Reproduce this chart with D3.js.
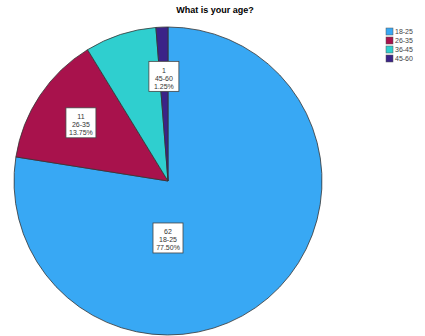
<!DOCTYPE html>
<html>
<head>
<meta charset="utf-8">
<script src="https://cdn.jsdelivr.net/npm/d3@7"></script>
<style>
  body { margin: 0; background: #fff; }
  svg { display: block; }
</style>
</head>
<body>
<script>
// chart data
var ageGroups = ["18-25", "26-35", "36-45", "45-60"];
var counts = [62, 11, 6, 1];
var percents = ["77.50%", "13.75%", "7.50%", "1.25%"];
var sliceColors = ["#38a8f4", "#a8124c", "#2fcfcf", "#3b2388"];
// which slices get a value box (the 36-45 box is hidden in the original)
var showLabel = [true, true, false, true];

var width = 425, height = 336;
var cx = 168, cy = 181, radius = 154;

var svg = d3.select("body").append("svg")
    .attr("width", width)
    .attr("height", height);

// title
svg.append("text")
    .attr("x", 215)
    .attr("y", 13)
    .style("text-anchor", "middle")
    .style("font", "bold 9px 'Liberation Sans', Arial, sans-serif")
    .style("fill", "#000")
    .text("What is your age?");

var data = ageGroups.map(function(g, i) {
  return {group: g, count: counts[i], pct: percents[i], color: sliceColors[i], label: showLabel[i]};
});

// clockwise from 12 o'clock, no sorting
var pie = d3.pie()
    .sort(null)
    .value(function(d) { return d.count; });

var arc = d3.arc()
    .innerRadius(0)
    .outerRadius(radius);

var g = svg.append("g")
    .attr("transform", "translate(" + cx + "," + cy + ")");

var arcs = pie(data);

g.selectAll("path.slice")
    .data(arcs)
    .enter()
    .append("path")
    .attr("class", "slice")
    .attr("d", arc)
    .attr("fill", function(d) { return d.data.color; })
    .attr("stroke", "#333")
    .attr("stroke-width", 0.8);

// label placement: along the bisector at 2/3 radius,
// the big slice gets its box straight below the centre like SPSS does
function labelPos(d, i) {
  var a = (d.startAngle + d.endAngle) / 2;
  var r = radius * 0.68;
  if (i === 0) { a = Math.PI; r = radius * 0.37; }
  return [Math.sin(a) * r, -Math.cos(a) * r];
}

var boxes = g.selectAll("g.node")
    .data(arcs.filter(function(d) { return d.data.label; }))
    .enter()
    .append("g")
    .attr("class", "node")
    .attr("transform", function(d) {
      var p = labelPos(d, d.index);
      return "translate(" + p[0] + "," + p[1] + ")";
    });

boxes.append("rect")
    .attr("x", -15)
    .attr("y", -15)
    .attr("width", 30)
    .attr("height", 30)
    .attr("fill", "#fff")
    .attr("stroke", "#444")
    .attr("stroke-width", 0.8);

boxes.each(function(d) {
  var lines = [String(d.data.count), d.data.group, d.data.pct];
  var box = d3.select(this);
  lines.forEach(function(t, k) {
    box.append("text")
      .attr("x", 0)
      .attr("y", -6 + k * 8)
      .attr("dy", ".35em")
      .style("text-anchor", "middle")
      .style("font", "7px 'Liberation Sans', Arial, sans-serif")
      .style("fill", "#333")
      .text(t);
  });
});

// legend
var legend = svg.append("g")
    .attr("transform", "translate(386,28)");

var item = legend.selectAll("g.item")
    .data(data)
    .enter()
    .append("g")
    .attr("class", "item")
    .attr("transform", function(d, i) { return "translate(0," + (i * 9) + ")"; });

item.append("rect")
    .attr("width", 7)
    .attr("height", 7)
    .attr("fill", function(d) { return d.color; })
    .attr("stroke", "#555")
    .attr("stroke-width", 0.5);

item.append("text")
    .attr("x", 9)
    .attr("y", 3.5)
    .attr("dy", ".35em")
    .style("font", "7px 'Liberation Sans', Arial, sans-serif")
    .style("fill", "#444")
    .text(function(d) { return d.group; });
</script>
</body>
</html>
